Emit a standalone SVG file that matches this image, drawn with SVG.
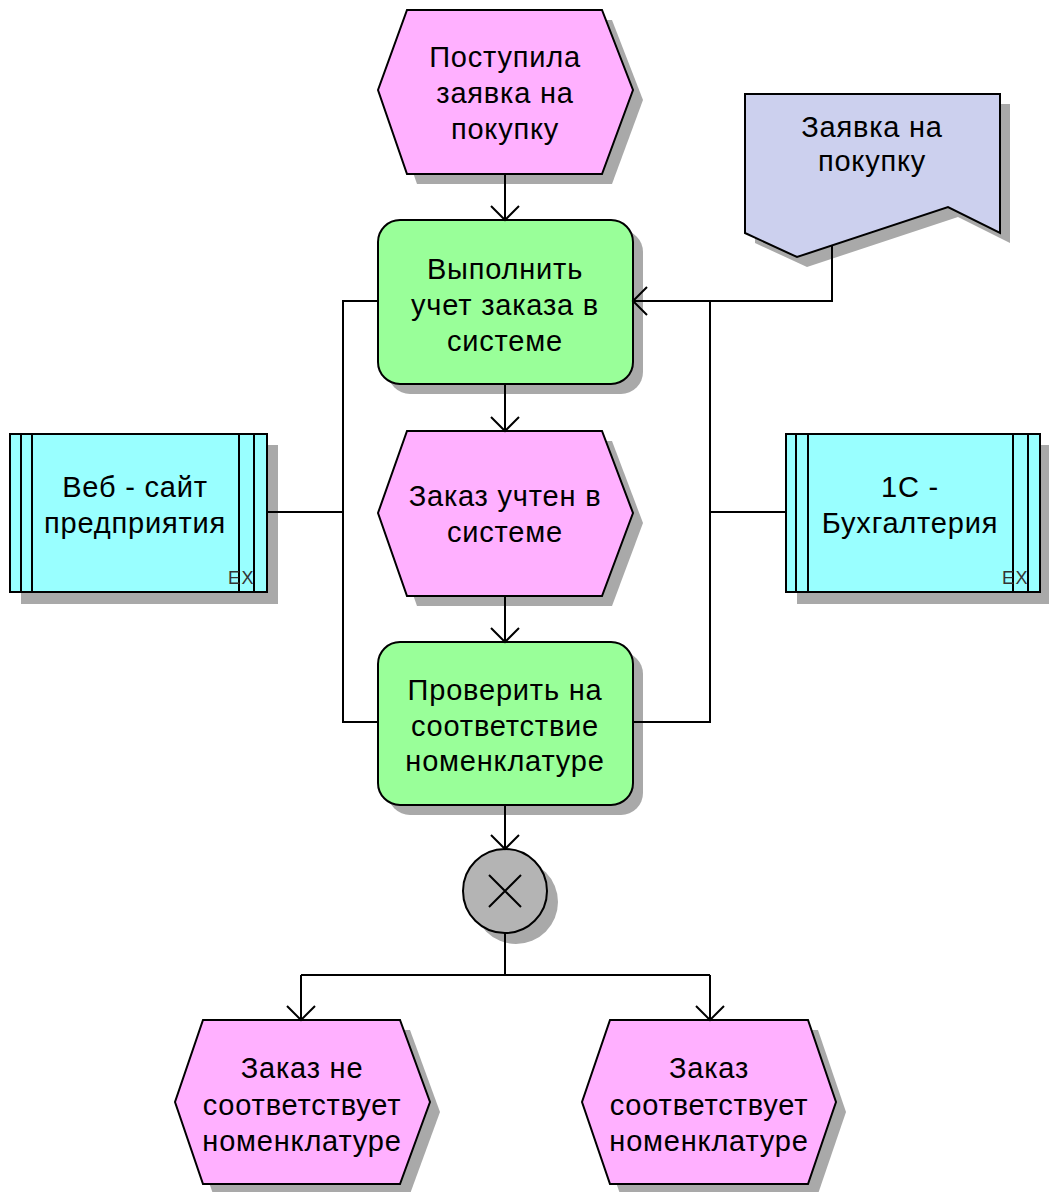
<svg xmlns="http://www.w3.org/2000/svg" width="1049" height="1192" viewBox="0 0 1049 1192">
  <defs>
    <style>
      .shadow { fill: #a9a9a9; stroke: none; }
      .event { fill: #ffb0ff; stroke: #000; stroke-width: 2; }
      .func { fill: #99ff99; stroke: #000; stroke-width: 2; }
      .doc { fill: #ccd0ee; stroke: #000; stroke-width: 2; }
      .app { fill: #99ffff; stroke: #000; stroke-width: 2; }
      .xor { fill: #b4b4b4; stroke: #000; stroke-width: 2; }
      .line { fill: none; stroke: #000; stroke-width: 2; }
      .lbl { font-family: "Liberation Sans", Arial, sans-serif; font-size: 29px; letter-spacing: 0.8px; fill: #000; text-anchor: middle; }
      .ex { font-family: "Liberation Sans", Arial, sans-serif; font-size: 18px; letter-spacing: 1.5px; fill: #333; }
    </style>
    <marker id="arrow" viewBox="-2 -2 18 32" refX="14" refY="14" markerWidth="18" markerHeight="32" markerUnits="userSpaceOnUse" orient="auto">
      <path d="M0,0 L14,14 L0,28" fill="none" stroke="#000" stroke-width="2"/>
    </marker>
  </defs>

  <!-- start event -->
  <g id="event-received">
    <polygon class="shadow" points="417,20 612,20 643,100 612,184 417,184 388,100"/>
    <polygon class="event" points="407,10 602,10 633,90 602,174 407,174 378,90"/>
    <text class="lbl" x="505" y="67">Поступила</text>
    <text class="lbl" x="505" y="103">заявка на</text>
    <text class="lbl" x="505" y="139">покупку</text>
  </g>

  <!-- document -->
  <g id="doc-request">
    <polygon class="shadow" points="755,104 1010,104 1010,243 958,217 807,267 755,243"/>
    <polygon class="doc" points="745,94 1000,94 1000,233 948,207 797,257 745,233"/>
    <text class="lbl" x="872" y="137">Заявка на</text>
    <text class="lbl" x="872" y="171">покупку</text>
  </g>

  <!-- function 1 -->
  <g id="func-register">
    <rect class="shadow" x="388" y="230" width="255" height="164" rx="22"/>
    <rect class="func" x="378" y="220" width="255" height="164" rx="22"/>
    <text class="lbl" x="505" y="279">Выполнить</text>
    <text class="lbl" x="505" y="315">учет заказа в</text>
    <text class="lbl" x="505" y="351">системе</text>
  </g>

  <!-- event 2 -->
  <g id="event-registered">
    <polygon class="shadow" points="417,441 612,441 643,523 612,606 417,606 388,523"/>
    <polygon class="event" points="407,431 602,431 633,513 602,596 407,596 378,513"/>
    <text class="lbl" x="505" y="506">Заказ учтен в</text>
    <text class="lbl" x="505" y="542">системе</text>
  </g>

  <!-- application system: web site -->
  <g id="app-web">
    <rect class="shadow" x="21" y="445" width="257" height="159"/>
    <rect class="app" x="10" y="434" width="257" height="158"/>
    <path class="line" d="M21,434 V592 M32,434 V592 M239,434 V592 M254,434 V592"/>
    <text class="lbl" x="135" y="497">Веб - сайт</text>
    <text class="lbl" x="135" y="533">предприятия</text>
    <text class="ex" x="228" y="584">EX</text>
  </g>

  <!-- application system: 1C -->
  <g id="app-1c">
    <rect class="shadow" x="797" y="445" width="254" height="159"/>
    <rect class="app" x="786" y="434" width="254" height="158"/>
    <path class="line" d="M796,434 V592 M808,434 V592 M1013,434 V592 M1028,434 V592"/>
    <text class="lbl" x="910" y="497">1С -</text>
    <text class="lbl" x="910" y="533">Бухгалтерия</text>
    <text class="ex" x="1002" y="584">EX</text>
  </g>

  <!-- function 2 -->
  <g id="func-check">
    <rect class="shadow" x="388" y="652" width="255" height="163" rx="22"/>
    <rect class="func" x="378" y="642" width="255" height="163" rx="22"/>
    <text class="lbl" x="505" y="700">Проверить на</text>
    <text class="lbl" x="505" y="736">соответствие</text>
    <text class="lbl" x="505" y="771">номенклатуре</text>
  </g>

  <!-- XOR connector -->
  <g id="xor">
    <circle class="shadow" cx="516" cy="902" r="42"/>
    <circle class="xor" cx="505" cy="891" r="42"/>
    <path class="line" d="M489,875 L521,907 M521,875 L489,907"/>
  </g>

  <!-- outcome events -->
  <g id="event-mismatch">
    <polygon class="shadow" points="213,1030 410,1030 440,1112 410,1194 213,1194 185,1112"/>
    <polygon class="event" points="203,1020 400,1020 430,1102 400,1184 203,1184 175,1102"/>
    <text class="lbl" x="302" y="1078">Заказ не</text>
    <text class="lbl" x="302" y="1115">соответствует</text>
    <text class="lbl" x="302" y="1151">номенклатуре</text>
  </g>

  <g id="event-match">
    <polygon class="shadow" points="620,1030 818,1030 846,1112 818,1194 620,1194 592,1112"/>
    <polygon class="event" points="610,1020 808,1020 836,1102 808,1184 610,1184 582,1102"/>
    <text class="lbl" x="709" y="1078">Заказ</text>
    <text class="lbl" x="709" y="1115">соответствует</text>
    <text class="lbl" x="709" y="1151">номенклатуре</text>
  </g>

  <!-- connectors, drawn over the drop shadows -->
  <g id="connectors">
    <path class="line" d="M505,174 V220" marker-end="url(#arrow)"/>
    <path class="line" d="M505,384 V431" marker-end="url(#arrow)"/>
    <path class="line" d="M505,596 V642" marker-end="url(#arrow)"/>
    <path class="line" d="M505,805 V849" marker-end="url(#arrow)"/>
    <path class="line" d="M505,933 V975 M301,975 H710"/>
    <path class="line" d="M301,975 V1020" marker-end="url(#arrow)"/>
    <path class="line" d="M710,975 V1020" marker-end="url(#arrow)"/>
    <!-- document input -->
    <path class="line" d="M832,245 V301 H633" marker-end="url(#arrow)"/>
    <!-- application system 1C -->
    <path class="line" d="M786,512 H710 M710,301 V722 H633"/>
    <!-- web site -->
    <path class="line" d="M267,512 H343 M378,301 H343 V722 H378"/>
  </g>
</svg>
